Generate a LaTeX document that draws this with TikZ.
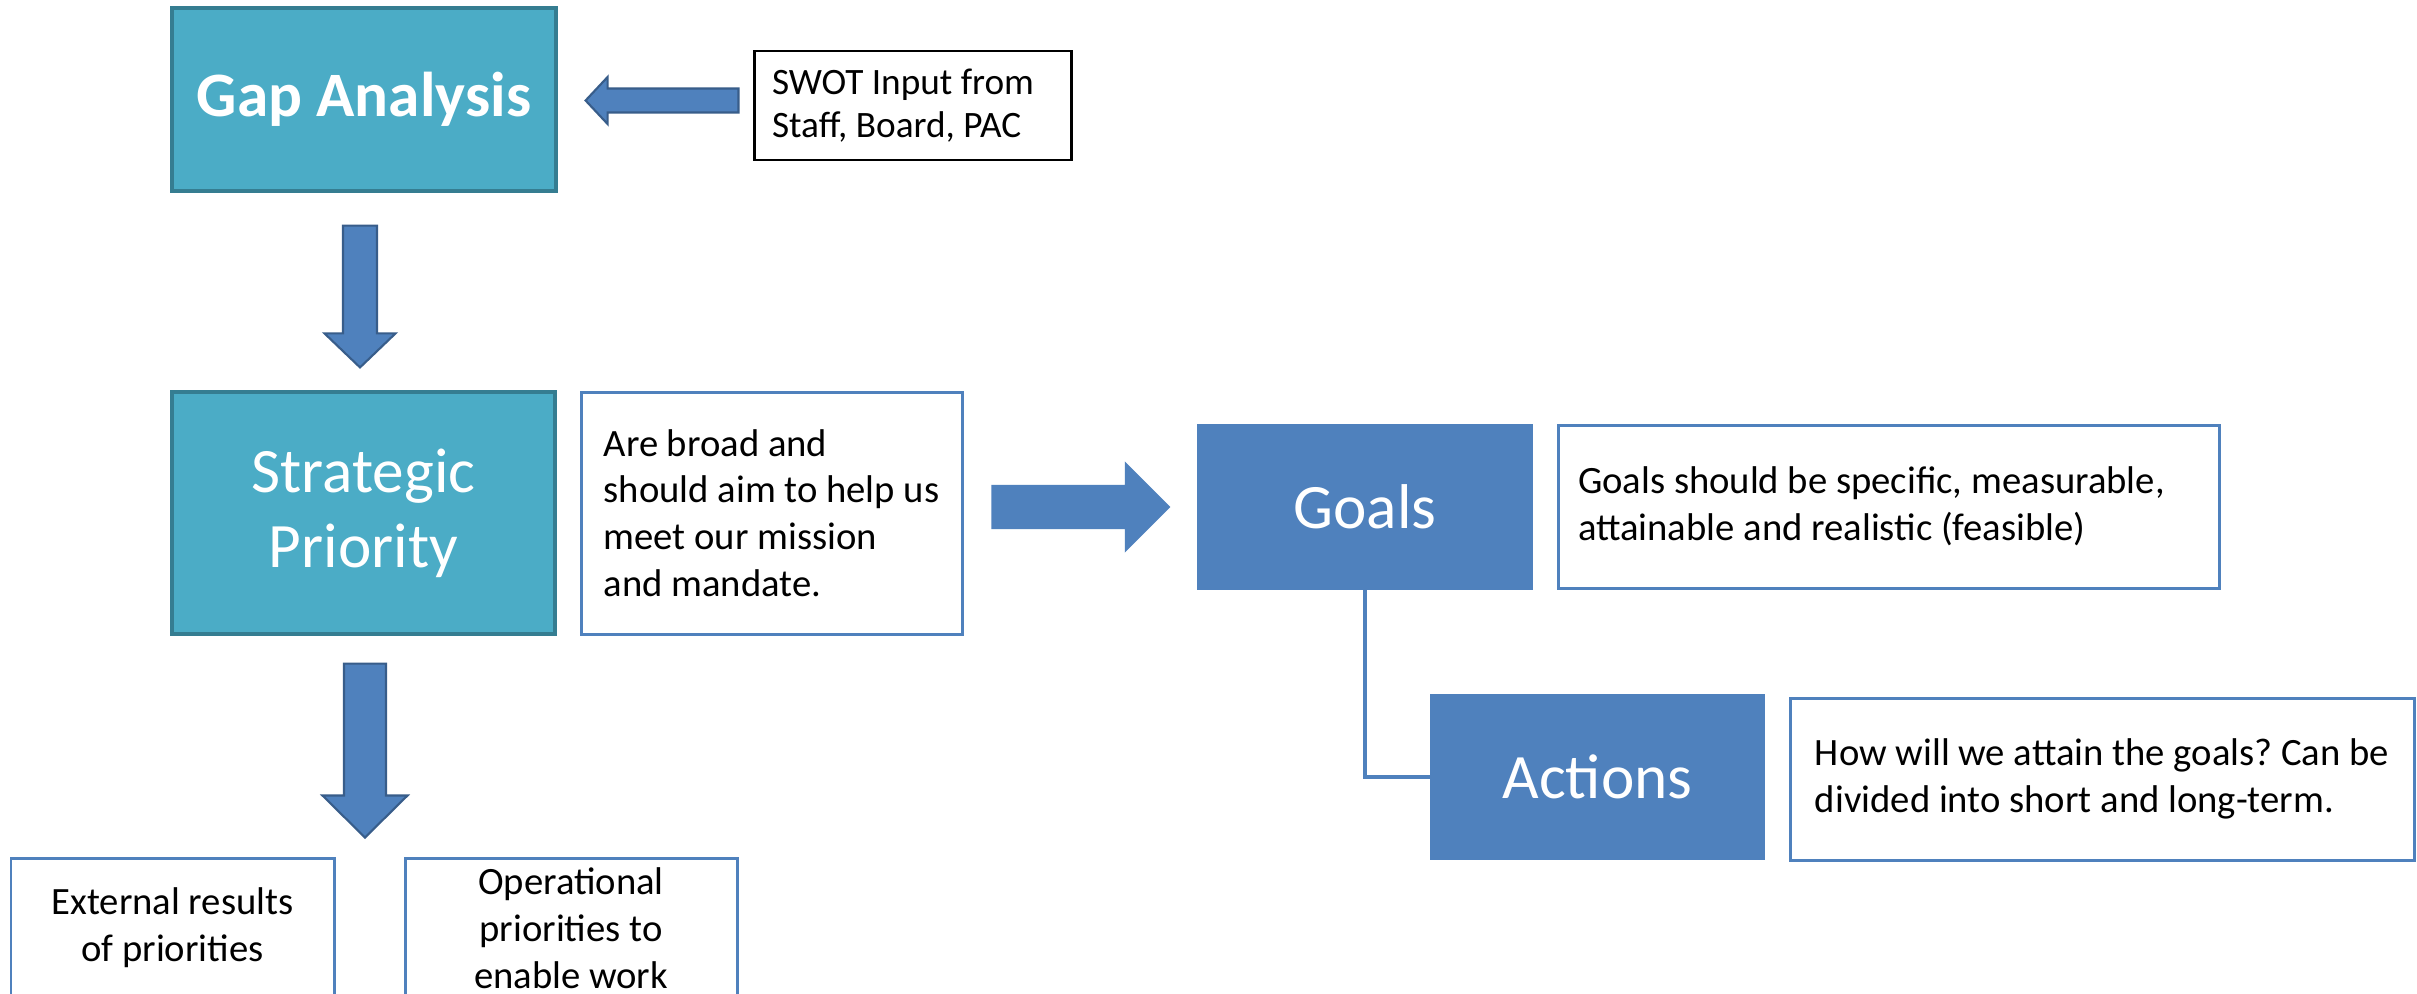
\documentclass[tikz,border=0pt]{standalone}
\usepackage{fontspec}
\setmainfont{Carlito}
\usetikzlibrary{calc}
\frenchspacing

\definecolor{aquafill}{HTML}{4BACC6}
\definecolor{aqualine}{HTML}{357D91}
\definecolor{bluefill}{HTML}{4F81BD}
\definecolor{blueline}{HTML}{385D8A}

\tikzset{
  headbox/.style={draw=aqualine, line width=0.9pt, fill=aquafill, text=white,
    font=\fontsize{18}{21.3}\selectfont, align=center, inner sep=0pt},
  bluebox/.style={draw=bluefill, line width=0.6pt, fill=bluefill, text=white,
    font=\fontsize{18}{21.3}\selectfont, align=center, inner sep=0pt},
  notebox/.style={draw=bluefill, line width=0.85pt, fill=white, text=black,
    font=\fontsize{11}{13.3}\selectfont, align=flush left, inner xsep=0.2cm, inner ysep=0pt},
  blockarrow/.style={fill=bluefill, draw=blueline, line width=0.6pt, line join=miter},
  connector/.style={draw=bluefill, line width=1.4pt}
}

\begin{document}
\begin{tikzpicture}
\useasboundingbox (0,0) rectangle (24.17,-9.93);
\fill[white] (0,0) rectangle (24.17,-9.93);
\clip (0,0) rectangle (24.17,-9.93);

% main boxes
\node[headbox, font=\fontsize{18}{21.3}\selectfont\bfseries,
      minimum width=3.84cm, minimum height=1.83cm] (gap) at (3.64,-0.995) {Gap Analysis};
\node[notebox, draw=black, font=\fontsize{10.6}{12.2}\selectfont,
      text width=2.81cm, inner xsep=0.18cm, minimum height=1.09cm] (swot) at (9.125,-1.055)
      {SWOT Input from\\Staff, Board, PAC};

\node[headbox, minimum width=3.83cm, minimum height=2.42cm] (strat) at (3.635,-5.13) {Strategic\\Priority};
% left-aligned block, centred in a fixed-size box
\node[notebox, align=left, inner xsep=0pt, minimum width=3.81cm, minimum height=2.42cm] (broad) at (7.715,-5.13)
      {Are broad and\\should aim to help us\\meet our mission\\and mandate.};

\node[bluebox, minimum width=3.34cm, minimum height=1.64cm] (goals) at (13.65,-5.07) {Goals};
\node[notebox, text width=6.21cm, minimum height=1.63cm] (goalsnote) at (18.885,-5.065)
      {Goals should be specific, measurable,\\attainable and realistic (feasible)};

\node[bluebox, minimum width=3.33cm, minimum height=1.64cm] (actions) at (15.975,-7.77) {Actions};
\node[notebox, align=left, inner xsep=0pt, minimum width=6.24cm, minimum height=1.62cm] (actionsnote) at (21.02,-7.79)
      {How will we attain the goals? Can be\\divided into short and long-term.};

\node[notebox, align=flush center, text width=2.83cm, minimum height=1.40cm] (external) at (1.725,-9.28)
      {External results\\of priorities};
\node[notebox, align=flush center, text width=2.92cm, minimum height=1.40cm] (operational) at (5.71,-9.28)
      {Operational\\priorities to\\enable work};

% goals to actions elbow
\draw[connector] (goals.south) |- (actions.west);

% block arrow: SWOT input into gap analysis
\filldraw[blockarrow] let \p1=($(gap.east -| swot.west)+(-0.14,-0.01)$), \p2=($(gap.east)+(0.28,0)$) in
  (\x1,\y1+0.12cm) -- (\x2+0.22cm,\y1+0.12cm) -- (\x2+0.22cm,\y1+0.235cm) -- (\x2,\y1)
  -- (\x2+0.22cm,\y1-0.235cm) -- (\x2+0.22cm,\y1-0.12cm) -- (\x1,\y1-0.12cm) -- cycle;

% block arrow: gap analysis down to strategic priority
\filldraw[blockarrow] let \p1=($(gap.south)+(-0.04,-0.33)$), \p2=($(strat.north)+(0,0.23)$) in
  (\x1-0.17cm,\y1) -- (\x1+0.17cm,\y1) -- (\x1+0.17cm,\y2+0.34cm) -- (\x1+0.355cm,\y2+0.34cm)
  -- (\x1,\y2) -- (\x1-0.355cm,\y2+0.34cm) -- (\x1-0.17cm,\y2+0.34cm) -- cycle;

% block arrow: strategic priority down to the two priority boxes
\filldraw[blockarrow] let \p1=($(strat.south)+(0.015,-0.28)$), \p2=($(external.north)+(0,0.19)$) in
  (\x1-0.21cm,\y1) -- (\x1+0.21cm,\y1) -- (\x1+0.21cm,\y2+0.42cm) -- (\x1+0.425cm,\y2+0.42cm)
  -- (\x1,\y2) -- (\x1-0.425cm,\y2+0.42cm) -- (\x1-0.21cm,\y2+0.42cm) -- cycle;

% block arrow: priority description over to goals
\filldraw[blockarrow, draw=bluefill] let \p1=($(goals.west -| broad.east)+(0.29,0)$), \p2=($(goals.west)+(-0.28,0)$) in
  (\x1,\y1+0.21cm) -- (\x2-0.43cm,\y1+0.21cm) -- (\x2-0.43cm,\y1+0.43cm) -- (\x2,\y1)
  -- (\x2-0.43cm,\y1-0.43cm) -- (\x2-0.43cm,\y1-0.21cm) -- (\x1,\y1-0.21cm) -- cycle;
\end{tikzpicture}
\end{document}
